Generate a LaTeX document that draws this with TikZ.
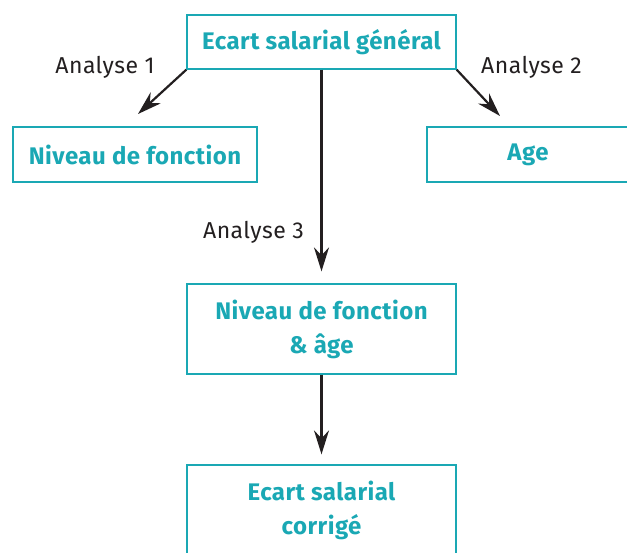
\documentclass[tikz,border=0pt]{standalone}
\usepackage{fontspec}
\setmainfont{Fira Sans}[LetterSpace=2]
\usetikzlibrary{arrows.meta}
\definecolor{teal}{HTML}{1AA8B4}
\definecolor{ink}{HTML}{231F20}
\tikzset{
  box/.style={draw=teal, line width=1.3pt, text=teal, font=\fontsize{24}{34}\selectfont\bfseries, align=center, inner sep=0pt},
  lab/.style={text=ink, font=\fontsize{23}{25}\selectfont, anchor=base, inner sep=0pt},
  arr/.style={draw=ink, line width=2.2pt, -{Stealth[length=24pt,width=15pt,inset=8pt]}}
}
\begin{document}
\begin{tikzpicture}[x=1pt,y=-1pt]
\useasboundingbox (0,0) rectangle (627,552);
\clip (0,0) rectangle (627,552);
\node[box, minimum width=269pt, minimum height=54pt] (top) at (321.5,42) {Ecart salarial général};
\node[box, minimum width=244pt, minimum height=55pt] (left) at (135,154.5) {Niveau de fonction};
\node[box, minimum width=202pt, minimum height=55pt] (right) at (528,154.5) {Age};
\node[box, minimum width=269pt, minimum height=90pt] (mid) at (321.5,329) {Niveau de fonction\\\& âge};
\node[box, minimum width=269pt, minimum height=91pt] (bot) at (321.5,510.5) {Ecart salarial\\corrigé};
\coordinate (t1) at (138,114);
\coordinate (t2) at (500,116);
\draw[arr] (top.south west) -- (t1);
\draw[arr] (top.south east) -- (t2);
\draw[arr, shorten >=12pt] (top.south) -- (mid.north);
\draw[arr, shorten >=10pt] (mid.south) -- (bot.north);
\node[lab] (a1) at (105,73) {Analyse 1};
\node[lab] (a2) at (531.5,73) {Analyse 2};
\node[lab] (a3) at (253.5,238) {Analyse 3};
\end{tikzpicture}
\end{document}
